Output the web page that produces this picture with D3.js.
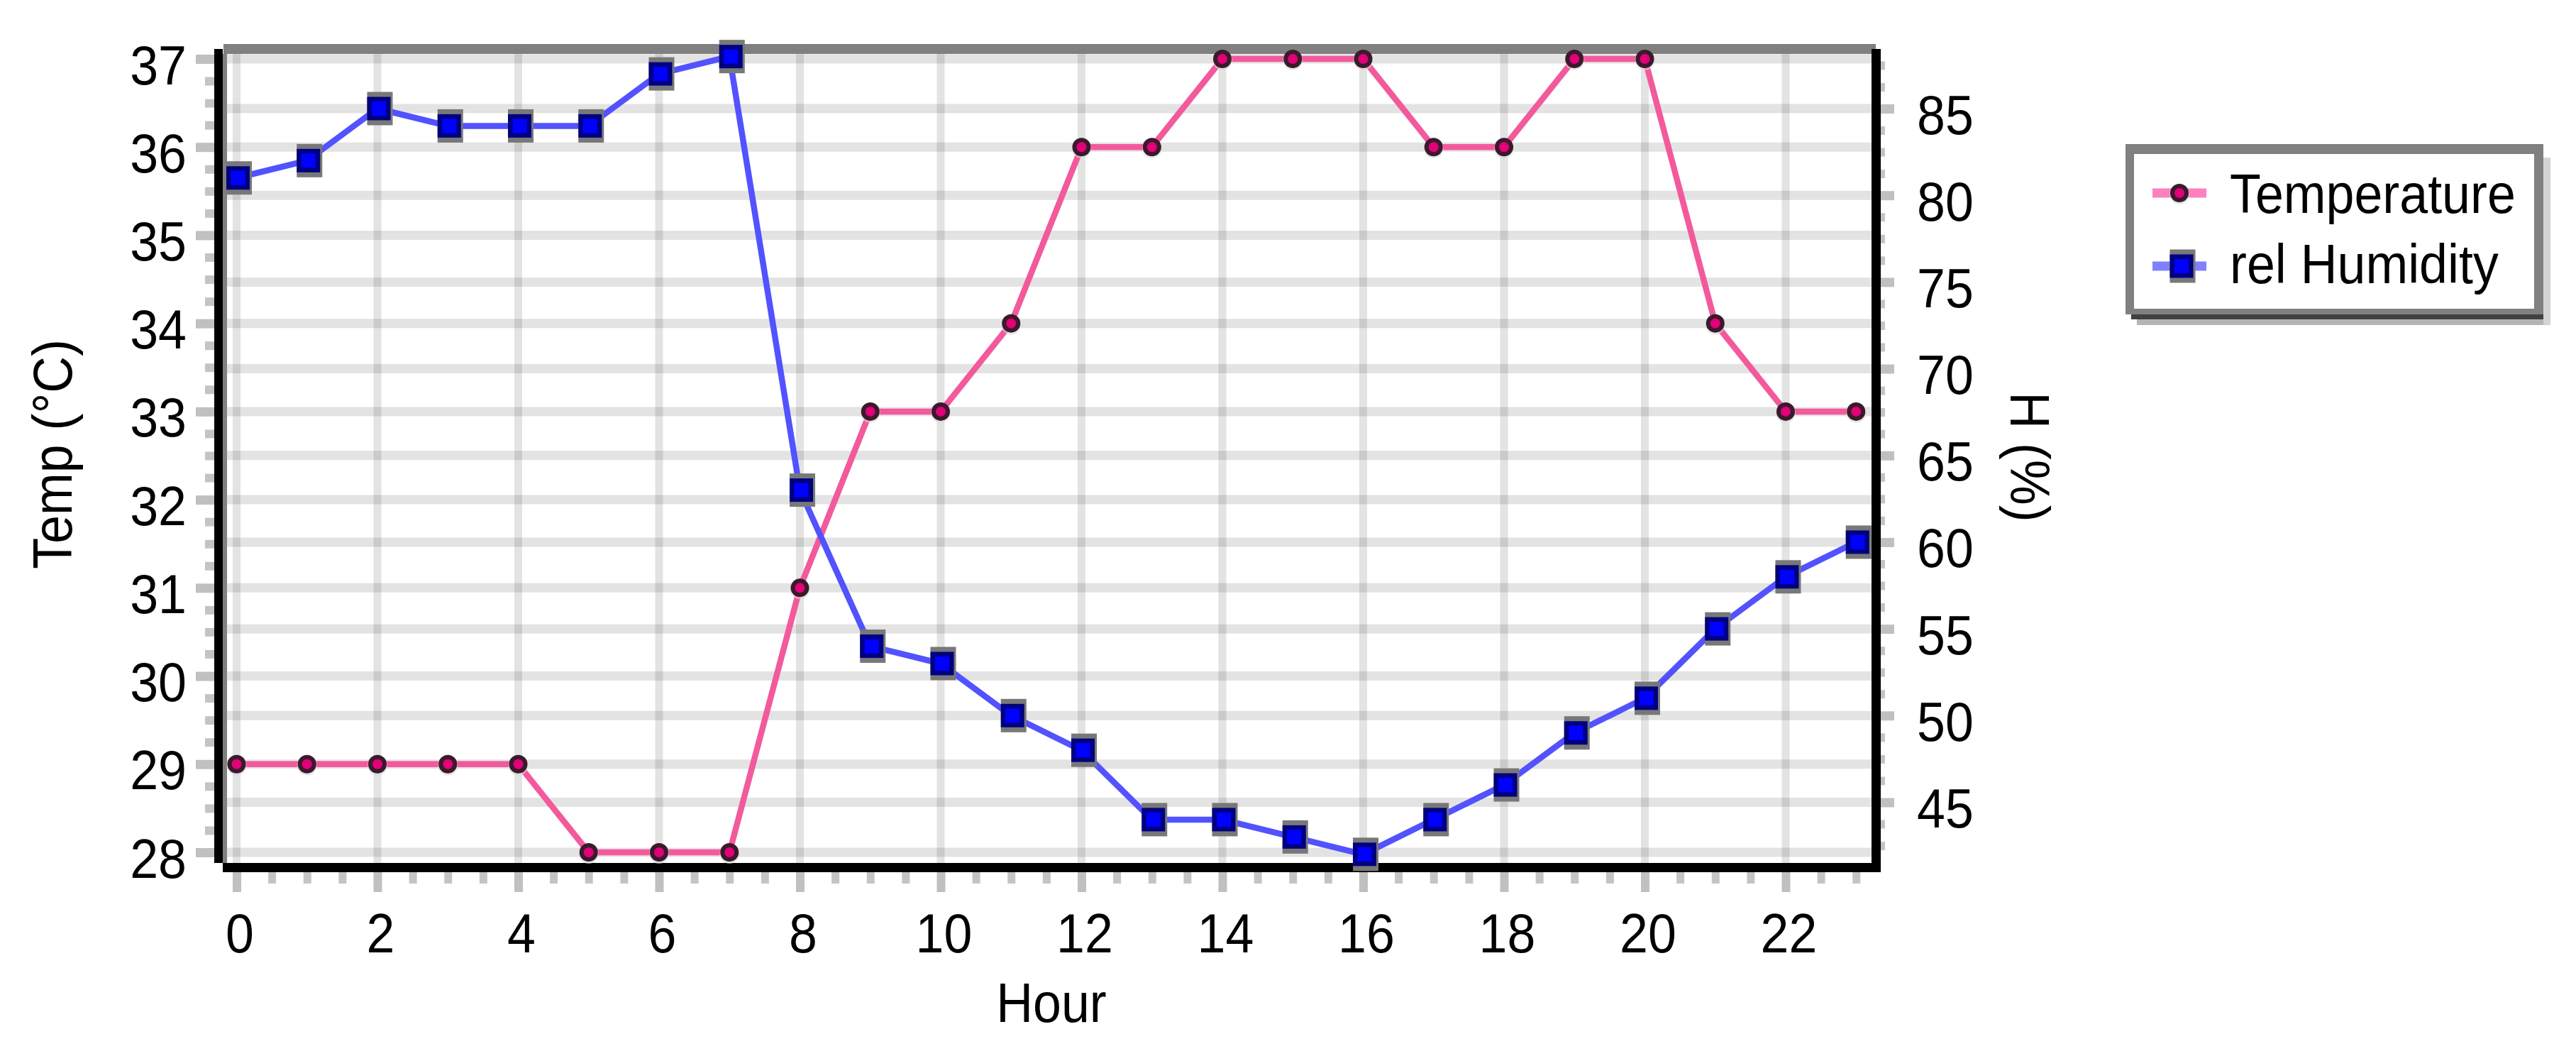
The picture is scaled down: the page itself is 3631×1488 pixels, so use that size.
<!DOCTYPE html>
<html><head><meta charset="utf-8">
<script src="https://cdn.jsdelivr.net/npm/d3@7"></script>
<style>
html,body{margin:0;padding:0;background:#fff;}
svg{display:block;}
text{font-family:"Liberation Sans",Arial,sans-serif;font-size:78px;fill:#000;}
</style>
</head><body>
<svg id="c" width="3631" height="1488"></svg>
<script>
// ---- data ----
const hours = [0,1,2,3,4,5,6,7,8,9,10,11,12,13,14,15,16,17,18,19,20,21,22,23];
const temperature = [29,29,29,29,29,28,28,28,31,33,33,34,36,36,37,37,37,36,36,37,37,34,33,33];
const humidity = [81,82,85,84,84,84,87,88,63,54,53,50,48,44,44,43,42,44,46,49,51,55,58,60];
const tempTicks = [28,29,30,31,32,33,34,35,36,37];
const humidityTicks = [45,50,55,60,65,70,75,80,85];
const hourTicks = [0,2,4,6,8,10,12,14,16,18,20,22];
const seriesNames = ["Temperature","rel Humidity"];
const xTitle = "Hour";
const leftTitle = "Temp (°C)";
const rightTitle = "H (%)";

// ---- layout ----
const SX = 0.92;
const svg = d3.select("#c");
svg.append("rect").attr("width",3631).attr("height",1488).attr("fill","#fff");

const x = d3.scaleLinear().domain([0,22]).range([333.5,2517]);
const yT = d3.scaleLinear().domain([28,37]).range([1201,83]);
const yH = d3.scaleLinear().domain([45,85]).range([1130.5,153]);

const PL = 315, PR = 2640, PT = 76, PB = 1216;

// grid
const grid = svg.append("g").attr("stroke","#000").attr("stroke-opacity",0.11);
grid.selectAll(".gv").data(hourTicks).join("line")
  .attr("x1",d=>x(d)).attr("x2",d=>x(d)).attr("y1",PT).attr("y2",PB).attr("stroke-width",11);
grid.selectAll(".gt").data(tempTicks).join("line").attr("class","gt")
  .attr("x1",PL).attr("x2",PR).attr("y1",d=>yT(d)).attr("y2",d=>yT(d)).attr("stroke-width",13);
grid.selectAll(".gh").data(humidityTicks).join("line").attr("class","gh")
  .attr("x1",PL).attr("x2",PR).attr("y1",d=>yH(d)).attr("y2",d=>yH(d)).attr("stroke-width",13);

// minor tick positions
const minorT = d3.range(28,37.001,0.25).filter(v=>Math.abs(v-Math.round(v))>1e-6);
const minorH = d3.range(42.5,87.501,1.25).filter(v=>Math.abs(v/5-Math.round(v/5))>1e-6);
const minorX = d3.range(0,23.001,0.5).filter(v=>Math.abs(v/2-Math.round(v/2))>1e-6);

function styleAxis(g, w, col){
  g.select(".domain").remove();
  g.selectAll(".tick line").attr("stroke",col||"#c0c0c0").attr("stroke-width",w);
}
const FONT = '"Liberation Sans",Arial,sans-serif';

// left axis
svg.append("g").attr("transform","translate(302,0)")
  .call(d3.axisLeft(yT).tickValues(minorT).tickSize(13).tickFormat(""))
  .call(g=>styleAxis(g,12,"#c4c4c4"));
const gL = svg.append("g").attr("transform","translate(302,0)")
  .call(d3.axisLeft(yT).tickValues(tempTicks).tickSize(26).tickFormat(d3.format("d")))
  .call(g=>styleAxis(g,13));
gL.selectAll(".tick text").attr("x",-39/SX).attr("dy",null).attr("y",35)
  .attr("transform",`scale(${SX},1)`).attr("fill","#000").style("font-size","78px")
  .style("font-family",FONT);

// right axis
svg.append("g").attr("transform","translate(2651,0)")
  .call(d3.axisRight(yH).tickValues(minorH).tickSize(6).tickFormat(""))
  .call(g=>styleAxis(g,12,"#c4c4c4"));
const gR = svg.append("g").attr("transform","translate(2651,0)")
  .call(d3.axisRight(yH).tickValues(humidityTicks).tickSize(19).tickFormat(d3.format("d")))
  .call(g=>styleAxis(g,13));
gR.selectAll(".tick text").attr("x",51/SX).attr("dy",null).attr("y",35)
  .attr("transform",`scale(${SX},1)`).attr("fill","#000").attr("text-anchor","start")
  .style("font-size","78px").style("font-family",FONT);

// bottom axis
svg.append("g").attr("transform","translate(0,1229)")
  .call(d3.axisBottom(x).tickValues(minorX).tickSize(16).tickFormat(""))
  .call(g=>styleAxis(g,11,"#c4c4c4"));
const gB = svg.append("g").attr("transform","translate(0,1229)")
  .call(d3.axisBottom(x).tickValues(hourTicks).tickSize(28).tickFormat(d3.format("d")))
  .call(g=>styleAxis(g,12));
gB.selectAll(".tick text").attr("x",4/SX).attr("dy",null).attr("y",113)
  .attr("transform",`scale(${SX},1)`).attr("fill","#000").attr("text-anchor","middle")
  .style("font-size","78px").style("font-family",FONT);

// frame
const fr = svg.append("g");
fr.append("rect").attr("x",315).attr("y",62).attr("width",2644-315).attr("height",14).attr("fill","#808080");
fr.append("rect").attr("x",302).attr("y",69).attr("width",12).attr("height",1216-69).attr("fill","#000");
fr.append("rect").attr("x",314).attr("y",76).attr("width",6).attr("height",1216-76).attr("fill","#808080");
fr.append("rect").attr("x",314).attr("y",1216).attr("width",2651-314).attr("height",13).attr("fill","#000");
fr.append("rect").attr("x",2638).attr("y",69).attr("width",13).attr("height",1229-69).attr("fill","#000");

// series
const tData = hours.map((h,i)=>({h, v:temperature[i]}));
const hData = hours.map((h,i)=>({h, v:humidity[i]}));
const TCOL = "#f25a9c", HCOL = "#5252ff";

svg.append("path").datum(tData).attr("fill","none").attr("stroke",TCOL).attr("stroke-width",8.5)
  .attr("stroke-linejoin","round")
  .attr("d", d3.line().x(d=>x(d.h)).y(d=>yT(d.v)));
svg.append("path").datum(hData).attr("fill","none").attr("stroke",HCOL).attr("stroke-width",8.5)
  .attr("stroke-linejoin","round")
  .attr("d", d3.line().x(d=>x(d.h)).y(d=>yH(d.v)));

function tMarker(g, cx, cy){
  g.append("circle").attr("cx",cx).attr("cy",cy+2).attr("r",14).attr("fill","#d8d8d8").attr("opacity",0.6);
  g.append("circle").attr("cx",cx).attr("cy",cy).attr("r",13).attr("fill","#3b1a2b");
  g.append("circle").attr("cx",cx).attr("cy",cy).attr("r",7).attr("fill","#e2007a");
}
function hMarker(g, cx, cy){
  g.append("rect").attr("x",cx-16.5).attr("y",cy-23.5).attr("width",36).attr("height",47).attr("fill","#787878");
  g.append("rect").attr("x",cx-16.5).attr("y",cy-16.5).attr("width",33).attr("height",33).attr("fill","#000080");
  g.append("rect").attr("x",cx-10).attr("y",cy-10).attr("width",20).attr("height",20).attr("fill","#0000ff");
}
const mk = svg.append("g");
hData.forEach(d=>hMarker(mk, x(d.h)+2, yH(d.v)));
tData.forEach(d=>tMarker(mk, x(d.h), yT(d.v)));

// titles
function txt(s, tx, ty, rot, anchor){
  return svg.append("text").attr("transform",`translate(${tx},${ty}) rotate(${rot}) scale(${SX},1)`)
    .attr("text-anchor",anchor).text(s);
}
txt(xTitle, 1482, 1440, 0, "middle");
txt(leftTitle, 101, 640, -90, "middle");
txt(rightTitle, 2834, 644, 90, "middle");

// legend
const lg = svg.append("g");
lg.append("rect").attr("x",3012).attr("y",448).attr("width",583).attr("height",10).attr("fill","#b4b4b4");
lg.append("rect").attr("x",3585).attr("y",222).attr("width",10).attr("height",236).attr("fill","#d4d4d4");
lg.append("rect").attr("x",3004).attr("y",441).attr("width",581).attr("height",9).attr("fill","#404040");
lg.append("rect").attr("x",2996).attr("y",203).attr("width",589).attr("height",240).attr("fill","#808080");
lg.append("rect").attr("x",3008).attr("y",217).attr("width",564).attr("height",218).attr("fill","#fff");
const legY = [272, 375];
lg.append("line").attr("x1",3034).attr("x2",3110).attr("y1",legY[0]).attr("y2",legY[0])
  .attr("stroke","#ff80c0").attr("stroke-width",13);
tMarker(lg, 3072, legY[0]);
lg.append("line").attr("x1",3034).attr("x2",3110).attr("y1",legY[1]).attr("y2",legY[1])
  .attr("stroke","#8080ff").attr("stroke-width",13);
hMarker(lg, 3075, legY[1]);
seriesNames.forEach((s,i)=>{
  lg.append("text").attr("transform",`translate(3143,${[300,399][i]}) scale(${SX},1)`).text(s);
});
</script>
</body></html>
